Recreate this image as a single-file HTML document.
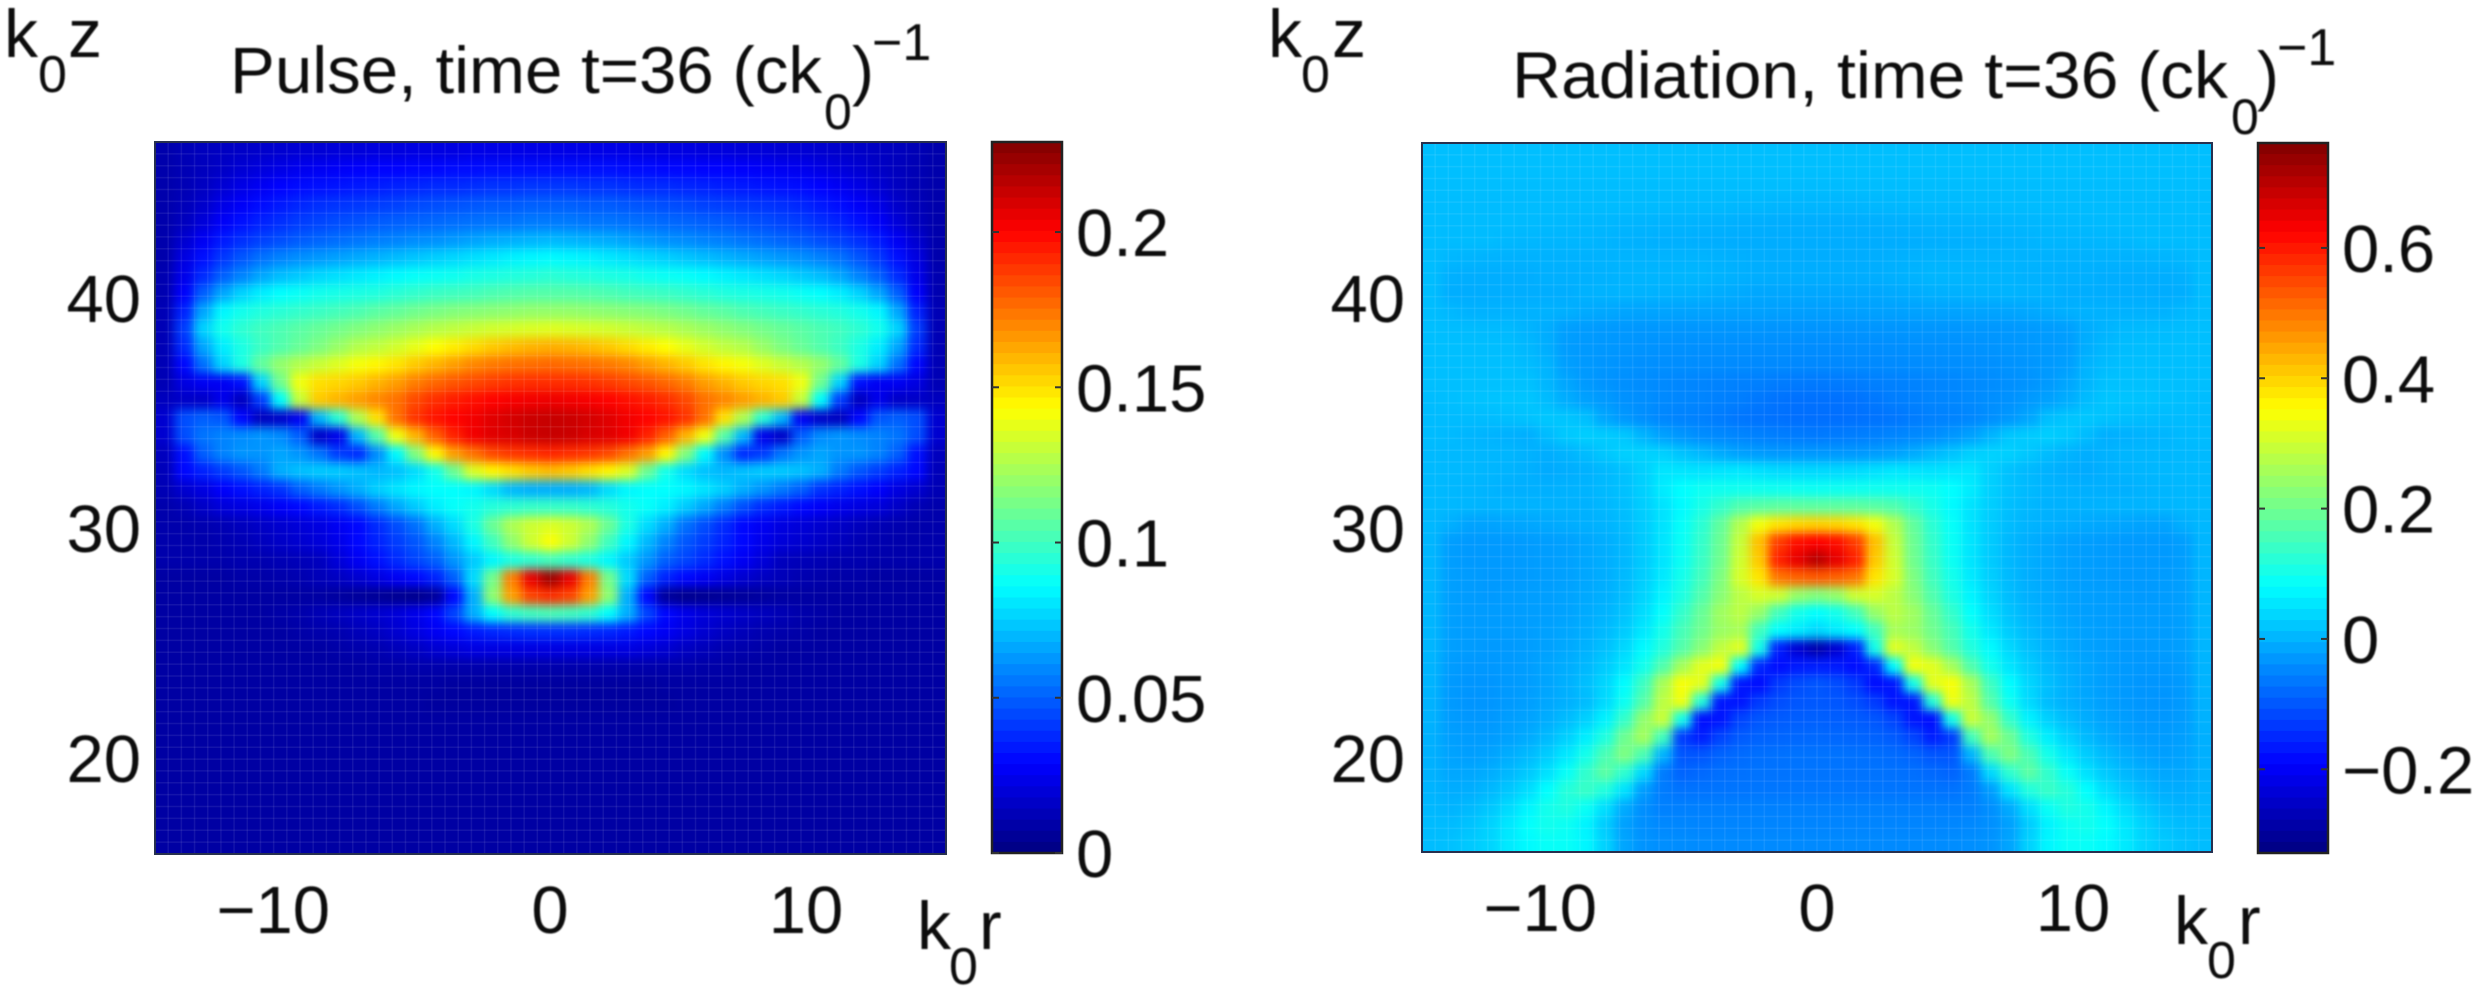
<!DOCTYPE html>
<html lang="en">
<head>
<meta charset="utf-8">
<title>Pulse and radiation heatmaps</title>
<style>
html,body{margin:0;padding:0;background:#fff;width:2481px;height:987px;overflow:hidden}
svg{display:block;font-family:"Liberation Sans",sans-serif;fill:#111}
</style>
</head>
<body>
<svg id="figure" xmlns="http://www.w3.org/2000/svg" width="2481" height="987" viewBox="0 0 2481 987">
<defs>
<filter id="soften" x="-5%" y="-5%" width="110%" height="110%" color-interpolation-filters="sRGB"><feGaussianBlur stdDeviation="5"/></filter>
<filter id="textsoft" x="-5%" y="-20%" width="110%" height="140%"><feGaussianBlur stdDeviation="0.7"/></filter>
<clipPath id="clip-left"><rect x="155" y="142" width="791" height="712"/></clipPath>
<clipPath id="clip-right"><rect x="1422" y="143" width="790" height="709"/></clipPath>
</defs>
<g id="left-cells" clip-path="url(#clip-left)"></g>
<g id="right-cells" clip-path="url(#clip-right)"></g>
<g id="overlay"></g>
<g filter="url(#textsoft)">
<g id="labels"></g>
<g>
<text x="230" y="93" font-size="66" textLength="592" lengthAdjust="spacingAndGlyphs">Pulse, time t=36 (ck</text>
<text x="824" y="129" font-size="50">0</text>
<text x="852" y="93" font-size="66">)</text>
<text x="872" y="60" font-size="52">−1</text>
</g>
<g>
<text x="1512" y="98" font-size="66" textLength="716" lengthAdjust="spacingAndGlyphs">Radiation, time t=36 (ck</text>
<text x="2231" y="134" font-size="50">0</text>
<text x="2257" y="98" font-size="66">)</text>
<text x="2277" y="65" font-size="52">−1</text>
</g>
<g>
<text x="4" y="57" font-size="68">k</text>
<text x="38" y="92" font-size="52">0</text>
<text x="68" y="57" font-size="68">z</text>
</g>
<g>
<text x="1268" y="57" font-size="68">k</text>
<text x="1301" y="92" font-size="52">0</text>
<text x="1332" y="57" font-size="68">z</text>
</g>
<g>
<text x="917" y="949" font-size="68">k</text>
<text x="949" y="984" font-size="52">0</text>
<text x="979" y="949" font-size="68">r</text>
</g>
<g>
<text x="2174" y="944" font-size="68">k</text>
<text x="2207" y="978" font-size="52">0</text>
<text x="2238" y="944" font-size="68">r</text>
</g>
</g>
</svg>
<script>
// Half-profiles from the outer edge (first) to r=0 (last); the field is mirrored about r=0. Units: 1/1000.
const pulseRows = [
[10,12,14,15,16,17,18,19,19,20,20,21,21,22,22,22,23,23,23,23,23],
[10,12,14,16,19,21,23,25,26,27,28,29,29,30,30,31,31,32,32,32,32],
[10,12,15,19,23,26,29,31,32,33,34,35,36,37,38,38,39,40,40,41,41],
[10,13,17,23,27,31,34,37,39,40,41,42,43,45,46,47,48,49,49,50,50],
[10,14,20,27,32,36,39,42,44,46,47,49,50,51,52,53,54,55,55,56,56],
[10,18,26,34,39,43,46,49,51,53,55,57,58,60,61,63,65,67,68,69,70],
[10,22,32,41,48,54,58,61,63,65,67,69,71,73,75,77,79,81,83,84,85],
[11,24,38,50,58,66,71,74,77,79,81,83,85,87,88,89,91,92,93,94,95],
[11,28,50,66,76,82,86,88,90,91,92,93,95,97,99,100,101,103,104,105,105],
[12,36,66,84,90,93,95,97,99,101,103,106,108,111,113,115,116,117,118,119,119],
[12,42,76,90,96,100,103,106,109,112,115,118,121,124,127,129,131,133,134,135,136],
[12,38,66,82,92,99,104,109,114,120,126,129,133,138,143,147,151,155,158,160,161],
[12,30,54,76,92,108,119,126,131,136,141,145,149,155,160,165,170,173,175,176,177],
[12,22,26,26,32,76,111,140,150,152,155,160,165,172,177,181,184,187,189,190,190],
[14,16,16,24,14,42,86,130,155,160,165,170,175,184,190,194,197,200,202,203,204],
[18,46,50,48,30,14,16,26,70,95,125,150,175,189,196,200,203,207,210,212,213],
[18,46,55,58,60,62,60,50,16,24,70,105,140,160,179,193,203,207,209,212,213],
[14,32,50,58,62,62,66,62,55,42,38,60,85,115,145,165,175,184,188,190,192],
[13,30,36,42,48,56,68,72,74,74,72,70,72,78,90,110,135,145,150,155,158],
[12,18,22,28,32,36,40,50,56,62,68,75,80,84,86,86,84,78,70,68,68],
[10,12,16,20,22,24,27,30,34,38,46,56,66,74,82,87,90,94,96,98,98],
[10,10,11,12,14,16,18,20,22,26,30,38,46,54,68,78,92,110,125,132,135],
[10,10,10,11,12,14,16,18,20,24,30,36,42,48,58,70,84,100,118,132,142],
[10,10,10,10,11,11,12,13,14,20,26,32,38,44,50,62,74,84,92,96,100],
[8,8,8,8,9,9,10,11,13,15,18,22,26,30,36,50,78,112,172,205,222],
[8,8,8,8,8,8,8,8,8,7,6,5,4,3,6,30,68,118,165,185,190],
[8,8,8,8,8,8,9,10,12,14,16,18,20,24,30,44,68,86,96,100,102],
[8,8,8,8,8,8,8,9,10,11,13,15,18,22,26,30,34,37,38,39,39],
[8,8,8,8,8,8,8,8,8,9,10,11,13,15,18,20,22,22,22,22,22],
[8,8,8,8,8,8,8,8,8,8,8,9,9,10,10,10,10,10,10,10,10],
[8,8,8,8,8,8,8,8,8,8,8,8,8,8,8,7,7,7,7,7,7],
[8,8,8,8,8,8,8,8,8,8,8,8,8,8,7,7,7,7,7,7,7],
[8,8,8,8,8,8,8,8,8,8,8,8,8,8,8,8,8,8,8,8,8],
[8,8,8,8,8,8,8,8,8,8,8,8,8,8,8,8,8,8,8,8,8],
[8,8,8,8,8,8,8,8,8,8,8,8,8,8,8,8,8,8,8,8,8],
[8,8,8,8,8,8,8,8,8,8,8,8,8,8,8,8,8,8,8,8,8],
[8,8,8,8,8,8,8,8,8,8,8,8,8,8,8,8,8,8,8,8,8],
[8,8,8,8,8,8,8,8,8,8,8,8,8,8,8,8,8,8,8,8,8],
[8,8,8,8,8,8,8,8,8,8,8,8,8,8,8,8,8,8,8,8,8],
[8,8,8,8,8,8,8,8,8,8,8,8,8,8,8,8,8,8,8,8,8]
];
const radiationRows = [
[12,12,12,12,12,12,12,12,12,12,12,12,12,12,12,12,12,12,12,12,12],
[12,12,12,12,12,12,12,12,12,12,12,12,12,12,12,12,12,12,12,12,12],
[11,11,11,11,10,10,10,10,10,10,10,10,10,10,10,10,10,10,10,9,9],
[10,10,9,9,8,8,8,8,8,8,8,7,7,6,6,6,4,4,2,2,2],
[10,9,8,8,8,7,6,5,4,3,2,1,0,0,-1,-2,-4,-5,-6,-6,-6],
[10,9,8,8,4,3,2,2,2,0,-2,-3,-4,-4,-5,-6,-7,-8,-8,-8,-8],
[10,3,1,-1,-2,-2,-2,-2,-2,-1,0,0,0,0,0,-2,-4,-6,-7,-8,-8],
[10,-4,-6,-6,-6,-6,-4,-4,-3,-2,0,1,1,2,2,-1,-4,-6,-7,-8,-8],
[10,-6,-7,-6,-6,-6,-6,-6,-2,-1,0,-1,-2,-3,-4,-8,-11,-14,-14,-14,-14],
[10,4,-2,-2,-2,-2,-2,-4,-10,-13,-16,-17,-17,-18,-18,-19,-20,-20,-21,-22,-22],
[12,10,8,7,6,0,-8,-22,-26,-28,-30,-31,-31,-32,-32,-32,-33,-33,-34,-34,-34],
[12,12,11,11,10,4,-6,-25,-28,-30,-32,-34,-36,-37,-38,-39,-40,-41,-41,-42,-42],
[12,12,12,12,12,8,0,-22,-28,-32,-35,-38,-40,-41,-42,-43,-44,-45,-45,-46,-46],
[12,12,13,14,14,14,2,-15,-28,-34,-38,-42,-45,-48,-50,-52,-54,-56,-60,-61,-62],
[10,12,14,16,17,18,8,-8,-20,-28,-36,-40,-45,-48,-50,-54,-58,-64,-70,-72,-72],
[8,8,8,10,12,16,20,18,12,-15,-30,-40,-48,-52,-55,-60,-66,-70,-72,-74,-74],
[8,6,2,0,-3,-5,8,22,28,24,20,0,-20,-32,-42,-46,-50,-54,-58,-60,-62],
[6,5,4,3,2,-2,-6,0,8,20,30,32,30,16,4,-10,-20,-26,-30,-30,-30],
[6,5,4,2,0,-4,-10,-6,-2,5,14,30,52,52,50,52,55,48,42,40,40],
[6,4,2,0,-4,-4,-4,-2,0,6,14,30,60,80,92,95,96,96,95,94,92],
[6,4,2,0,0,-1,-2,-2,-2,4,12,28,50,76,105,135,165,175,180,180,180],
[4,-5,-18,-18,-16,-14,-12,-8,-4,0,8,26,50,85,125,185,270,340,380,395,400],
[2,-24,-28,-28,-28,-26,-24,-20,-14,-6,4,24,52,90,135,195,290,420,560,610,625],
[2,-24,-28,-28,-28,-26,-24,-20,-14,-6,4,24,52,92,140,200,300,410,590,650,700],
[2,-22,-26,-28,-28,-26,-24,-20,-14,-6,6,28,58,100,150,215,310,380,500,520,530],
[2,-22,-26,-28,-26,-24,-22,-18,-12,-4,10,34,68,110,165,225,280,310,300,240,220],
[2,-22,-26,-26,-26,-24,-22,-18,-10,0,16,44,82,135,190,250,280,240,150,100,80],
[2,-22,-26,-26,-26,-24,-20,-14,-6,6,24,56,100,155,200,245,260,150,80,60,40],
[2,-22,-26,-28,-28,-24,-20,-12,-2,14,38,76,115,170,225,285,320,100,-160,-240,-280],
[0,-26,-30,-30,-28,-24,-16,-8,4,24,52,98,165,255,320,340,80,-150,-180,-165,-160],
[0,-28,-32,-32,-28,-24,-16,-4,12,36,78,145,260,345,320,100,-170,-180,-130,-110,-100],
[-2,-28,-33,-32,-28,-22,-14,-4,8,40,92,170,280,335,120,-170,-170,-130,-110,-100,-98],
[-2,-26,-30,-30,-24,-18,-8,8,30,66,135,235,295,100,-180,-170,-120,-100,-95,-92,-90],
[-4,-22,-26,-26,-20,-10,6,30,62,112,195,255,150,-130,-160,-120,-95,-88,-84,-82,-80],
[-4,-18,-22,-18,-8,6,26,56,100,158,215,160,0,-100,-100,-85,-78,-74,-72,-70,-70],
[-2,-14,-14,-8,4,22,48,88,132,178,130,40,-60,-85,-80,-74,-72,-70,-69,-68,-68],
[0,-8,-6,4,20,44,80,118,140,115,50,-25,-60,-70,-70,-68,-67,-66,-66,-65,-65],
[4,0,6,20,42,70,100,112,90,46,-10,-40,-55,-56,-56,-56,-56,-55,-55,-55,-55],
[8,8,16,32,55,82,98,92,68,26,-20,-38,-46,-48,-50,-50,-50,-50,-50,-50,-50],
[10,14,22,34,58,76,88,88,72,32,-16,-34,-40,-42,-44,-45,-45,-45,-45,-45,-45]
];
const pulseXTicks = [-10, 0, 10];
const pulseYTicks = [20, 30, 40];
const radiationXTicks = [-10, 0, 10];
const radiationYTicks = [20, 30, 40];
const pulseBarTicks = [0, 0.05, 0.1, 0.15, 0.2];
const pulseBarLabels = ["0", "0.05", "0.1", "0.15", "0.2"];
const radiationBarTicks = [-0.2, 0, 0.2, 0.4, 0.6];
const radiationBarLabels = ["−0.2", "0", "0.2", "0.4", "0.6"];

const NS = "http://www.w3.org/2000/svg";
const overlay = document.getElementById("overlay");
const labels = document.getElementById("labels");

function jet(t) {
  t = Math.max(0, Math.min(1, t));
  const ch = c => Math.round(255 * Math.max(0, Math.min(1, 1.5 - Math.abs(4 * t - c))));
  return "rgb(" + ch(3) + "," + ch(2) + "," + ch(1) + ")";
}

function makeRect(parent, x, y, w, h, fill) {
  const el = document.createElementNS(NS, "rect");
  el.setAttribute("x", x);
  el.setAttribute("y", y);
  el.setAttribute("width", w);
  el.setAttribute("height", h);
  el.setAttribute("fill", fill);
  parent.appendChild(el);
  return el;
}

function makeLine(x1, y1, x2, y2, stroke, width) {
  const el = document.createElementNS(NS, "line");
  el.setAttribute("x1", x1);
  el.setAttribute("y1", y1);
  el.setAttribute("x2", x2);
  el.setAttribute("y2", y2);
  el.setAttribute("stroke", stroke);
  el.setAttribute("stroke-width", width);
  overlay.appendChild(el);
  return el;
}

function makeLabel(x, y, text, anchor) {
  const el = document.createElementNS(NS, "text");
  el.setAttribute("x", x);
  el.setAttribute("y", y);
  el.setAttribute("font-size", 67);
  el.setAttribute("text-anchor", anchor);
  el.textContent = text;
  
  
  labels.appendChild(el);
  return el;
}

function drawPanel(cfg) {
  const root = document.getElementById(cfg.cells);
  const blur = document.createElementNS(NS, "g");
  blur.setAttribute("filter", "url(#soften)");
  root.appendChild(blur);
  const rows = cfg.rows;
  const half = rows[0].length;
  const cols = half * 2 - 1;
  const plotW = cfg.x1 - cfg.x0;
  const plotH = cfg.y1 - cfg.y0;
  const cw = plotW / cols;
  const ch = plotH / rows.length;
  const color = v => jet((v / 1000 - cfg.min) / (cfg.max - cfg.min));
  rows.forEach((row, i) => {
    for (let c = 0; c < cols; c++) {
      const v = row[c < half ? c : cols - 1 - c];
      const pad = 24;
      const x = cfg.x0 + c * cw - (c === 0 ? pad : 0);
      const y = cfg.y0 + i * ch - (i === 0 ? pad : 0);
      const w = cw + 0.6 + (c === 0 || c === cols - 1 ? pad : 0);
      const h = ch + 0.6 + (i === 0 || i === rows.length - 1 ? pad : 0);
      const cell = makeRect(blur, x, y, w, h, color(v));
      
      
    }
  });

  // faint cell mesh of the original pcolor plot
  for (let k = 1; k < 60; k++) {
    const gx = cfg.x0 + k * plotW / 60;
    const gy = cfg.y0 + k * plotH / 60;
    const v = makeLine(gx, cfg.y0, gx, cfg.y1, "rgba(255,255,255,0.08)", 1.5);
    
    
    const h = makeLine(cfg.x0, gy, cfg.x1, gy, "rgba(255,255,255,0.08)", 1.5);
    
    
  }

  const frame = makeRect(overlay, cfg.x0, cfg.y0, plotW, plotH, "none");
  frame.setAttribute("stroke", "#27304f");
  frame.setAttribute("stroke-width", 2);
  
  

  const xPos = r => cfg.xMid + r * 25.6;
  const yPos = z => 528 - (z - 30) * 23;
  cfg.xTicks.forEach(t => {
    const px = xPos(t);
    if (t < 0) {
      makeLabel(px + 36, cfg.xLabelY, "−" + Math.abs(t), "end");
    } else {
      makeLabel(px, cfg.xLabelY, String(t), "middle");
    }
  });
  cfg.yTicks.forEach(t => {
    makeLabel(cfg.yLabelX, yPos(t) + 24, String(t), "end");
  });

  // colour bar
  const barH = cfg.barBottom - cfg.barTop;
  const steps = 64;
  for (let s = 0; s < steps; s++) {
    const seg = makeRect(overlay, cfg.barX0, cfg.barTop + s * barH / steps, cfg.barX1 - cfg.barX0, barH / steps + 0.6, jet(1 - (s + 0.5) / steps));
    
    
  }
  const bf = makeRect(overlay, cfg.barX0, cfg.barTop, cfg.barX1 - cfg.barX0, barH, "none");
  bf.setAttribute("stroke", "#222");
  bf.setAttribute("stroke-width", 2.5);
  
  
  const barY = v => cfg.barBottom - (v - cfg.min) / (cfg.max - cfg.min) * barH;
  cfg.barTicks.forEach((t, idx) => {
    const py = barY(t);
    const a = makeLine(cfg.barX0, py, cfg.barX0 + 7, py, "#333", 2);
    
    
    const b = makeLine(cfg.barX1 - 7, py, cfg.barX1, py, "#333", 2);
    
    
    makeLabel(cfg.barLabelX, py + 24, cfg.barLabels[idx], "start");
  });
}

drawPanel({
  cells: "left-cells", rows: pulseRows, min: 0, max: 0.229,
  x0: 155, x1: 946, y0: 142, y1: 854, xMid: 550,
  xTicks: pulseXTicks, yTicks: pulseYTicks, xLabelY: 933, yLabelX: 141,
  barX0: 992, barX1: 1062, barTop: 142, barBottom: 853, barLabelX: 1076,
  barTicks: pulseBarTicks, barLabels: pulseBarLabels
});
drawPanel({
  cells: "right-cells", rows: radiationRows, min: -0.3285, max: 0.761,
  x0: 1422, x1: 2212, y0: 143, y1: 852, xMid: 1817,
  xTicks: radiationXTicks, yTicks: radiationYTicks, xLabelY: 931, yLabelX: 1405,
  barX0: 2258, barX1: 2328, barTop: 143, barBottom: 853, barLabelX: 2342,
  barTicks: radiationBarTicks, barLabels: radiationBarLabels
});
</script>
</body>
</html>
